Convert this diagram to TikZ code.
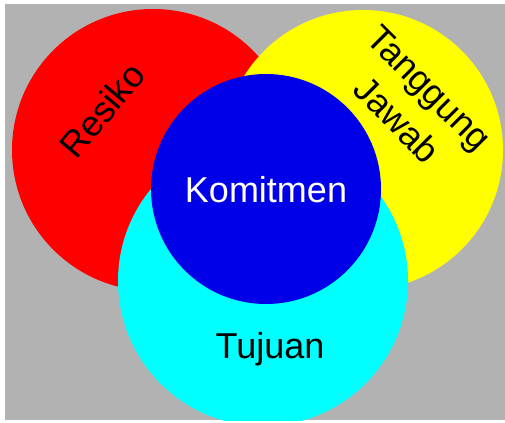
\documentclass[tikz,border=0pt]{standalone}
\usepackage{fontspec}
\setmainfont{Liberation Sans}
\definecolor{bggray}{RGB}{178,178,178}
\definecolor{vennred}{RGB}{255,0,0}
\definecolor{vennyellow}{RGB}{255,255,0}
\definecolor{venncyan}{RGB}{0,255,255}
\definecolor{vennblue}{RGB}{0,0,232}
\tikzset{
  venn/.style={circle,draw=none,inner sep=0pt},
  vennlabel/.style={font=\fontsize{27}{34}\selectfont,align=center,inner sep=0pt}
}
\begin{document}
\begin{tikzpicture}[x=0.75pt,y=0.75pt]
\useasboundingbox (0,0) rectangle (505,422);
\fill[white] (0,0) rectangle (505,422);
\fill[bggray] (5,2) rectangle (505,418);
\begin{scope}
\clip (5,2) rectangle (505,418);
\node[venn,fill=vennred,minimum size=211.5pt] (resiko) at (153,272) {};
\node[venn,fill=vennyellow,minimum size=210pt] (jawab) at (363,272) {};
\node[venn,fill=venncyan,minimum size=217.5pt] (tujuan) at (263,141) {};
\node[venn,fill=vennblue,minimum size=172.5pt] (komitmen) at (266,233) {};
\end{scope}
\node[vennlabel,rotate=50] (lresiko) at (102,312) {Resiko};
\node[vennlabel,rotate=-45] (ljawab) at (413,318) {Tanggung\\Jawab};
\node[vennlabel,text=white,anchor=base] (lkomitmen) at (266,220) {Komitmen};
\node[vennlabel,anchor=base] (ltujuan) at (270,64) {Tujuan};
\end{tikzpicture}
\end{document}
